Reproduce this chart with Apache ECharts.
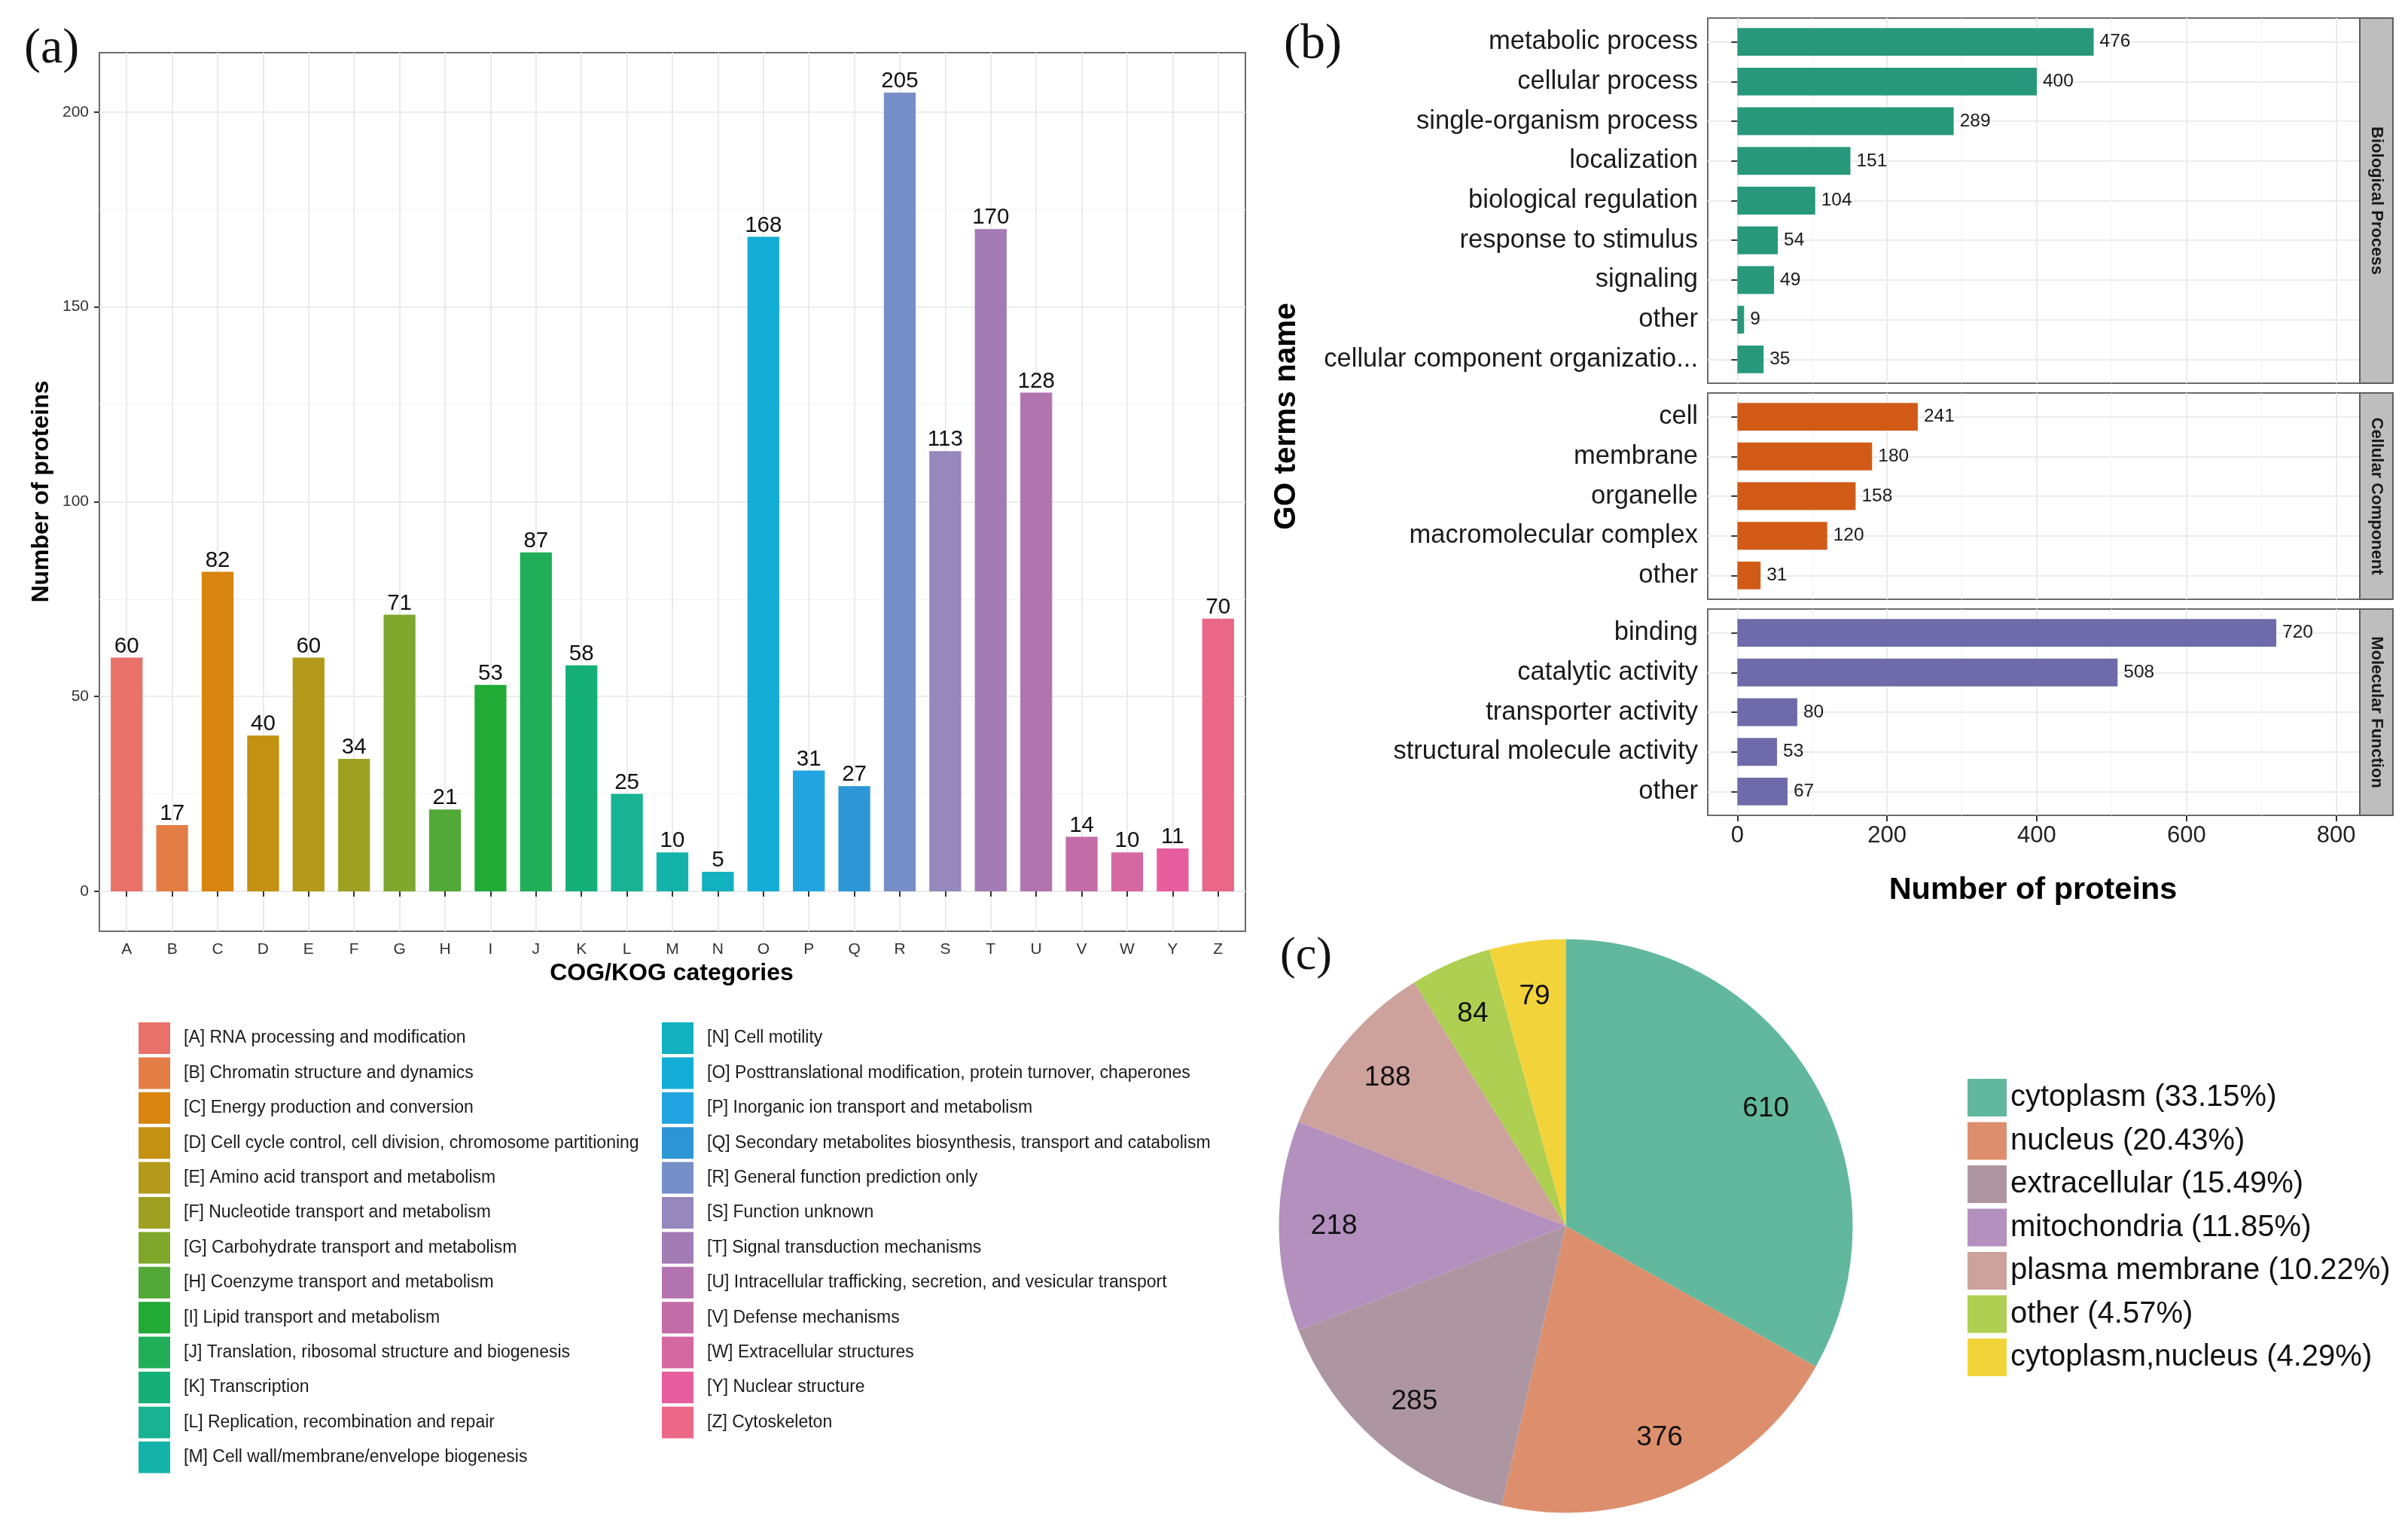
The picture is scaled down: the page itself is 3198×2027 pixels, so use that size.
<!DOCTYPE html>
<html><head><meta charset="utf-8">
<script src="https://cdn.jsdelivr.net/npm/echarts@6/dist/echarts.min.js"></script>
<style>html,body{margin:0;padding:0;background:#fff}#c{width:3198px;height:2027px}</style>
</head><body><div id="c"></div>
<script>
// ---------- DATA ----------
const cogCodes = ['A','B','C','D','E','F','G','H','I','J','K','L','M','N','O','P','Q','R','S','T','U','V','W','Y','Z'];
const cogNames = [
  'RNA processing and modification','Chromatin structure and dynamics','Energy production and conversion',
  'Cell cycle control, cell division, chromosome partitioning','Amino acid transport and metabolism',
  'Nucleotide transport and metabolism','Carbohydrate transport and metabolism','Coenzyme transport and metabolism',
  'Lipid transport and metabolism','Translation, ribosomal structure and biogenesis','Transcription',
  'Replication, recombination and repair','Cell wall/membrane/envelope biogenesis','Cell motility',
  'Posttranslational modification, protein turnover, chaperones','Inorganic ion transport and metabolism',
  'Secondary metabolites biosynthesis, transport and catabolism','General function prediction only',
  'Function unknown','Signal transduction mechanisms','Intracellular trafficking, secretion, and vesicular transport',
  'Defense mechanisms','Extracellular structures','Nuclear structure','Cytoskeleton'];
const cogValues = [60,17,82,40,60,34,71,21,53,87,58,25,10,5,168,31,27,205,113,170,128,14,10,11,70];
const cogColors = ['#E8716A','#E47D45','#D7850F','#C59112','#B5991A','#9EA022','#7EA72B','#53A937','#22AA37',
  '#20AE59','#15B078','#17B393','#13B3AA','#11B1C0','#13ADD6','#22A4E0','#2D96D5','#778FC8','#9687BD',
  '#A37CB6','#B274AF','#C36DA8','#D567A1','#E75E9E','#EA6788'];
const yTicksA = [0,50,100,150,200];
const yMinorA = [25,75,125,175];

const bpNames = ['metabolic process','cellular process','single-organism process','localization','biological regulation',
  'response to stimulus','signaling','other','cellular component organizatio...'];
const bpValues = [476,400,289,151,104,54,49,9,35];
const ccNames = ['cell','membrane','organelle','macromolecular complex','other'];
const ccValues = [241,180,158,120,31];
const mfNames = ['binding','catalytic activity','transporter activity','structural molecule activity','other'];
const mfValues = [720,508,80,53,67];
const xTicksB = [0,200,400,600,800];
const xMinorB = [100,300,500,700];

const locNames = ['cytoplasm','nucleus','extracellular','mitochondria','plasma membrane','other','cytoplasm,nucleus'];
const locValues = [610,376,285,218,188,84,79];
const locColors = ['#62B89D','#DD8F6D','#AD96A2','#B390BE','#CDA19C','#AECF51','#F3D33A'];

// ---------- LAYOUT / STYLE ----------
const FONT = "'Liberation Sans', Arial, Helvetica, sans-serif";
const SERIF = "'Liberation Serif', 'Times New Roman', serif";
const BORDER = '#6B6B6B';
const MAJOR = '#EBEBEB', MINOR = '#F3F3F3';
const GA = {left:132, top:70, width:1522, height:1167};
const GB = {left:2268, width:866, tops:[24,522,809], heights:[485,274,274]};

const facets = [
  {names:bpNames, values:bpValues, color:'#27997A', strip:'Biological Process'},
  {names:ccNames, values:ccValues, color:'#D15B16', strip:'Cellular Component'},
  {names:mfNames, values:mfValues, color:'#6F6BAA', strip:'Molecular Function'}
];

const cogPos = cogCodes.map((c,i)=>i+1);
const legendNames = cogCodes.map((c,i)=>'['+c+'] '+cogNames[i]);

const grids = [Object.assign({show:true, borderColor:BORDER, borderWidth:2, backgroundColor:'#fff', containLabel:false, outerBoundsMode:'none'}, GA)]
  .concat(facets.map((f,k)=>({left:GB.left, top:GB.tops[k], width:GB.width, height:GB.heights[k],
    show:true, borderColor:BORDER, borderWidth:2, backgroundColor:'#fff', containLabel:false, outerBoundsMode:'none'})));

const tickStyle = {color:'#333', width:2};

const xAxes = [{
  gridIndex:0, type:'value', min:0.4, max:25.6, position:'bottom',
  axisLine:{show:false},
  axisTick:{show:true, customValues:cogPos, length:7, lineStyle:tickStyle},
  axisLabel:{show:true, customValues:cogPos, formatter:v=>cogCodes[Math.round(v)-1], fontSize:21, color:'#333', margin:14, fontFamily:FONT},
  splitLine:{show:true, lineStyle:{color:MAJOR, width:2}}
}].concat(facets.map((f,k)=>({
  gridIndex:k+1, type:'value', min:-39.6, max:831.6, position:'bottom',
  axisLine:{show:false},
  axisTick:{show:k===2, customValues:xTicksB, length:8, lineStyle:tickStyle},
  axisLabel:{show:k===2, customValues:xTicksB, fontSize:31, color:'#222', margin:12, fontFamily:FONT},
  splitLine:{show:true, lineStyle:{color:MAJOR, width:2}}
}))).concat(facets.map((f,k)=>({
  gridIndex:k+1, type:'value', min:-39.6, max:831.6, position:'top',
  axisLine:{show:false},
  axisTick:{show:false, customValues:xMinorB},
  axisLabel:{show:false},
  splitLine:{show:true, lineStyle:{color:MINOR, width:1}}
})));

const yAxes = [{
  gridIndex:0, type:'value', min:-10.25, max:215.25, position:'left',
  axisLine:{show:false},
  axisTick:{show:true, customValues:yTicksA, length:7, lineStyle:tickStyle},
  axisLabel:{show:true, customValues:yTicksA, fontSize:21, color:'#333', margin:14, fontFamily:FONT},
  splitLine:{show:true, lineStyle:{color:MAJOR, width:2}}
},{
  gridIndex:0, type:'value', min:-10.25, max:215.25, position:'right',
  axisLine:{show:false},
  axisTick:{show:false, customValues:yMinorA},
  axisLabel:{show:false},
  splitLine:{show:true, lineStyle:{color:MINOR, width:1}}
}].concat(facets.map((f,k)=>{
  const pos = f.names.map((n,i)=>i+1);
  return {
    gridIndex:k+1, type:'value', inverse:true, min:0.4, max:f.names.length+0.6, position:'left',
    axisLine:{show:false},
    axisTick:{show:true, customValues:pos, length:8, lineStyle:tickStyle},
    axisLabel:{show:true, customValues:pos, formatter:v=>f.names[Math.round(v)-1], fontSize:34.5, color:'#1a1a1a', margin:13, fontFamily:FONT},
    splitLine:{show:true, lineStyle:{color:MAJOR, width:2}}
  };
}));

const barSeries = cogCodes.map((c,i)=>({
  type:'bar', name:legendNames[i], xAxisIndex:0, yAxisIndex:0,
  data:[[i+1, cogValues[i]]], barWidth:'70%', barGap:'-100%',
  itemStyle:{color:cogColors[i]},
  label:{show:true, position:'top', distance:0, formatter:p=>String(p.value[1]), fontSize:29.5, color:'#111', fontFamily:FONT},
  emphasis:{disabled:true}, silent:true, animation:false
}));

const facetSeries = facets.map((f,k)=>({
  type:'custom', xAxisIndex:k+1, yAxisIndex:k+2,
  data:f.values.map((v,i)=>[v,i+1]), encode:{x:0, y:1},
  silent:true, animation:false,
  renderItem:(params, api)=>{
    const v = api.value(0), y = api.value(1);
    const p0 = api.coord([0,y]), p1 = api.coord([v,y]);
    const h = Math.abs(api.size([0,0.7])[1]);
    return {type:'group', children:[
      {type:'rect', shape:{x:p0[0], y:p0[1]-h/2, width:p1[0]-p0[0], height:h}, style:{fill:f.color}},
      {type:'text', style:{text:String(v), x:p1[0]+8, y:p1[1], align:'left', verticalAlign:'middle',
        textAlign:'left', textVerticalAlign:'middle', fontSize:24.5, fontFamily:FONT, fill:'#1a1a1a'}}
    ]};
  }
}));

const total = locValues.reduce((a,b)=>a+b,0);
const pieData = locNames.map((n,i)=>({name:n, value:locValues[i], itemStyle:{color:locColors[i]}}));
const PIE_C = [2079.5,1628.5], PIE_R = 381;
const pieSeries = [{
  type:'pie', name:'loc', center:PIE_C, radius:PIE_R, startAngle:90, clockwise:true, padAngle:0,
  data:pieData, label:{show:false}, labelLine:{show:false}, itemStyle:{borderWidth:0},
  emphasis:{disabled:true}, silent:true, animation:false
},{
  type:'pie', name:'locLabels', center:PIE_C, radius:[PIE_R*0.6, PIE_R], startAngle:90, clockwise:true, padAngle:0,
  data:locNames.map((n,i)=>({name:n, value:locValues[i]})),
  itemStyle:{color:'rgba(0,0,0,0)', borderWidth:0},
  label:{show:true, position:'inside', formatter:'{c}', fontSize:37, color:'#111', fontFamily:FONT},
  labelLine:{show:false}, emphasis:{disabled:true}, silent:true, animation:false
}];

const legendCommon = {orient:'vertical', selectedMode:false, icon:'rect', padding:0};
const legends = [
  Object.assign({}, legendCommon, {data:legendNames.slice(0,13), left:184, top:1358, itemWidth:42, itemHeight:42, itemGap:4.4,
    textStyle:{fontSize:23, color:'#1a1a1a', fontFamily:FONT, padding:[0,0,0,13]}}),
  Object.assign({}, legendCommon, {data:legendNames.slice(13), left:879, top:1358, itemWidth:42, itemHeight:42, itemGap:4.4,
    textStyle:{fontSize:23, color:'#1a1a1a', fontFamily:FONT, padding:[0,0,0,13]}}),
  Object.assign({}, legendCommon, {data:locNames, left:2613, top:1433, itemWidth:52, itemHeight:50, itemGap:7.5,
    formatter:n=>{const i=locNames.indexOf(n); return n+' ('+(locValues[i]/total*100).toFixed(2)+'%)';},
    textStyle:{fontSize:40, color:'#111', fontFamily:FONT}})
];

function txt(x, y, text, size, opts){
  opts = opts || {};
  return {type:'text', x:x, y:y, rotation:opts.rotation||0, z:100,
    style:{text:text, fontSize:size, fontFamily:opts.family||FONT, fontWeight:opts.weight||'normal',
      fill:opts.fill||'#111', align:opts.align||'center', verticalAlign:'middle',
      textAlign:opts.align||'center', textVerticalAlign:'middle'}};
}

const graphics = [
  txt(32, 66, '(a)', 66, {family:SERIF, align:'left'}),
  txt(1705, 60, '(b)', 66, {family:SERIF, align:'left'}),
  txt(1700, 1271, '(c)', 62, {family:SERIF, align:'left'}),
  txt(55, 653, 'Number of proteins', 32, {weight:'bold', rotation:Math.PI/2, fill:'#000'}),
  txt(892, 1293, 'COG/KOG categories', 32, {weight:'bold', fill:'#000'}),
  txt(1709, 553, 'GO terms name', 40.5, {weight:'bold', rotation:Math.PI/2, fill:'#000'}),
  txt(2700, 1183, 'Number of proteins', 41.5, {weight:'bold', fill:'#000'})
].concat(facets.map((f,k)=>({type:'rect', z:90,
  shape:{x:3134, y:GB.tops[k], width:44, height:GB.heights[k]},
  style:{fill:'#BEBEBE', stroke:'#5E5E5E', lineWidth:2}})))
 .concat(facets.map((f,k)=>txt(3156, GB.tops[k]+GB.heights[k]/2, f.strip, 22, {weight:'bold', rotation:-Math.PI/2, fill:'#1a1a1a'})));

const chart = echarts.init(document.getElementById('c'), null, {renderer:'canvas'});
chart.setOption({
  animation:false,
  backgroundColor:'#fff',
  textStyle:{fontFamily:FONT},
  grid:grids,
  xAxis:xAxes,
  yAxis:yAxes,
  legend:legends,
  series:barSeries.concat(facetSeries).concat(pieSeries),
  graphic:graphics
});
</script></body></html>
